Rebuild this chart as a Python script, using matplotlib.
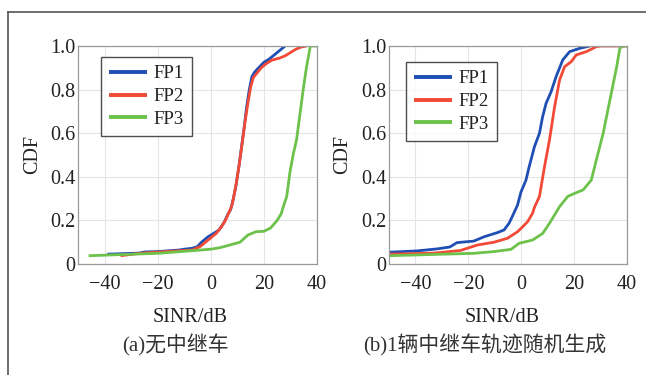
import matplotlib
matplotlib.use("Agg")
import matplotlib.pyplot as plt
from matplotlib.lines import Line2D

# ---------------- data ----------------
series_names = ["FP1", "FP2", "FP3"]
colors = ["#1f4fb4", "#f24a36", "#6cc24a"]

# (a) no relay vehicle
a_fp1_x = [-39, -27, -25, -20, -12, -10, -7, -5, -3.5, -1, 1, 3, 5, 6.5, 7.5, 8.5, 9.5, 10.5, 11.5, 12.5, 13.5, 14.5, 15.5, 16.5, 18, 20, 22, 24, 26, 28]
a_fp1_y = [0.045, 0.05, 0.055, 0.057, 0.064, 0.068, 0.072, 0.08, 0.10, 0.125, 0.14, 0.155, 0.19, 0.23, 0.25, 0.30, 0.36, 0.44, 0.53, 0.62, 0.72, 0.80, 0.86, 0.88, 0.90, 0.925, 0.94, 0.96, 0.98, 1.0]
a_fp2_x = [-34, -26, -17, -7, -4, -2, 0, 2, 4, 5.5, 7, 8, 9, 10, 11, 12, 13, 14, 15, 16, 17, 19, 21, 23, 26, 28, 30, 32, 34, 36]
a_fp2_y = [0.038, 0.05, 0.057, 0.064, 0.08, 0.10, 0.12, 0.14, 0.17, 0.2, 0.24, 0.27, 0.33, 0.40, 0.48, 0.57, 0.66, 0.74, 0.81, 0.855, 0.87, 0.90, 0.92, 0.935, 0.945, 0.955, 0.97, 0.985, 0.995, 1.0]
a_fp3_x = [-46, -20, -7, 0, 3.5, 8, 11, 14, 17, 20, 22.5, 25, 26.5, 27.5, 28.6, 29.8, 31, 32.3, 33.5, 34.8, 36, 37.5, 40]
a_fp3_y = [0.038, 0.049, 0.061, 0.068, 0.075, 0.09, 0.10, 0.133, 0.148, 0.15, 0.165, 0.2, 0.23, 0.27, 0.31, 0.42, 0.50, 0.57, 0.68, 0.80, 0.90, 1.0, 1.0]

# (b) one relay vehicle with random trajectory
b_fp1_x = [-50, -39.5, -32, -27, -24.3, -18, -14, -9, -6.5, -4.6, -3.3, -1.4, -0.1, 1.8, 3, 5, 6.9, 8.1, 9.4, 11.3, 13.2, 15.7, 18.3, 22, 26]
b_fp1_y = [0.054, 0.06, 0.069, 0.078, 0.098, 0.105, 0.125, 0.144, 0.156, 0.187, 0.22, 0.27, 0.33, 0.385, 0.446, 0.538, 0.6, 0.676, 0.737, 0.79, 0.86, 0.936, 0.974, 0.989, 1.0]
b_fp2_x = [-50, -33, -23, -16.6, -10.3, -5.2, -1.4, 0.5, 2.4, 4.3, 5, 6.9, 8.8, 10.7, 12.6, 14.5, 16.4, 18.9, 20.8, 24.6, 28.4, 30, 40]
b_fp2_y = [0.045, 0.05, 0.062, 0.087, 0.1, 0.118, 0.148, 0.17, 0.194, 0.233, 0.26, 0.31, 0.446, 0.57, 0.72, 0.844, 0.905, 0.928, 0.959, 0.974, 0.997, 1.0, 1.0]
b_fp3_x = [-50, -17.9, -10.3, -3.9, -0.8, 4.3, 8.1, 10.7, 14.5, 17.6, 20.2, 23.4, 26.5, 28.4, 31, 33.5, 36.1, 37.3, 38.6, 40]
b_fp3_y = [0.038, 0.049, 0.057, 0.067, 0.095, 0.11, 0.14, 0.187, 0.263, 0.31, 0.324, 0.34, 0.385, 0.477, 0.6, 0.75, 0.905, 0.99, 1.0, 1.0]

x_ticks = [-40, -20, 0, 20, 40]
x_tick_labels = ["\u221240", "\u221220", "0", "20", "40"]
y_ticks = [0, 0.2, 0.4, 0.6, 0.8, 1.0]
y_tick_labels = ["0", "0.2", "0.4", "0.6", "0.8", "1.0"]
x_label = "SINR/dB"
y_label = "CDF"
captions = ["(a)无中继车", "(b)1辆中继车轨迹随机生成"]

# ---------------- figure ----------------
W, H = 646, 375
fig = plt.figure(figsize=(W / 100, H / 100), dpi=100)
serif = ["Liberation Serif", "DejaVu Serif"]
cjk = ["Liberation Serif", "Noto Sans CJK SC", "DejaVu Sans"]

def px_rect(l, r, t, b):
    return [l / W, 1 - b / H, (r - l) / W, (b - t) / H]

# outer frame (top and left edges)
fig.add_artist(Line2D([8 / W, 1], [1 - 12 / H, 1 - 12 / H], transform=fig.transFigure, color="#555555", lw=1.2))
fig.add_artist(Line2D([8 / W, 8 / W], [0, 1 - 12 / H], transform=fig.transFigure, color="#555555", lw=1.2))

panels = [
    dict(rect=px_rect(78, 317, 46, 264),
         data=[(a_fp1_x, a_fp1_y), (a_fp2_x, a_fp2_y), (a_fp3_x, a_fp3_y)],
         leg=(0.096, 0.95), xlab_x=(190 - 78) / 239, ylab_px=33, cap_x=175),
    dict(rect=px_rect(389, 627, 46, 264),
         data=[(b_fp1_x, b_fp1_y), (b_fp2_x, b_fp2_y), (b_fp3_x, b_fp3_y)],
         leg=(0.071, 0.927), xlab_x=(502 - 389) / 238, ylab_px=343, cap_x=485),
]

for i, p in enumerate(panels):
    ax = fig.add_axes(p["rect"])
    for (xs, ys), name, c in zip(p["data"], series_names, colors):
        ax.plot(xs, ys, color=c, lw=2.0, label=name, solid_capstyle="butt")
    ax.set_xlim(-50, 40)
    ax.set_ylim(0, 1.0)
    ax.set_xticks(x_ticks)
    ax.set_xticklabels(x_tick_labels, family=serif, fontsize=14.5)
    ax.set_yticks(y_ticks)
    ax.set_yticklabels(y_tick_labels, family=serif, fontsize=14.5)
    ax.tick_params(axis="both", length=0, colors="#222222")
    ax.tick_params(axis="y", pad=2)
    ax.tick_params(axis="x", pad=8)
    ax.grid(True, color="#e2e6ea", lw=0.8)
    ax.set_axisbelow(True)
    for s in ax.spines.values():
        s.set_color("#9a9a9a")
        s.set_linewidth(0.9)
    # labels
    ax.set_xlabel(x_label, family=serif, fontsize=14.5, color="#222222")
    ax.xaxis.set_label_coords(p["xlab_x"], -0.2)
    fig.text(p["ylab_px"] / W, 1 - 155 / H, y_label, rotation=90, ha="center", va="center",
             family=serif, fontsize=14.5, color="#222222")
    leg = ax.legend(loc="upper left", bbox_to_anchor=p["leg"], frameon=True, fancybox=False,
                    prop=dict(family=serif, size=13.5), handlelength=2.0, handletextpad=0.35,
                    labelspacing=0.3, borderpad=0.45, borderaxespad=0)
    leg.get_frame().set_edgecolor("#222222")
    leg.get_frame().set_linewidth(1.0)
    for t in leg.get_texts():
        t.set_color("#222222")
    for h in leg.get_lines():
        h.set_linewidth(2.8)
    fig.text(p["cap_x"] / W, 1 - 345 / H, captions[i], ha="center", va="center",
             family=cjk, fontsize=15, color="#333333")

fig.savefig("out.png", dpi=100)
